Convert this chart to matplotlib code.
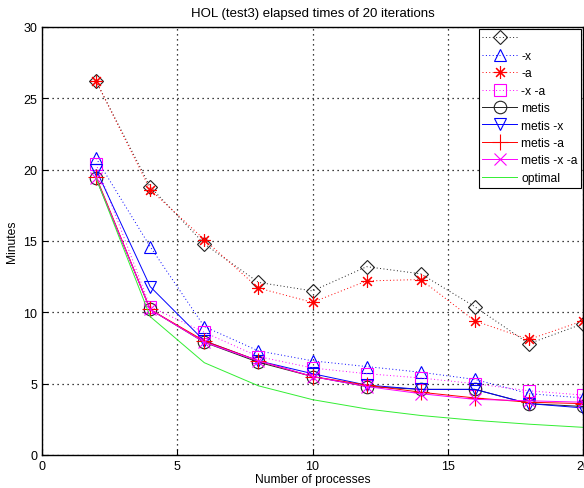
import matplotlib
matplotlib.use("Agg")
import matplotlib.pyplot as plt

plt.rcParams['font.family'] = ['Liberation Sans', 'DejaVu Sans']

procs = [2, 4, 6, 8, 10, 12, 14, 16, 18, 20]

plain = [26.2, 18.8, 14.8, 12.1, 11.5, 13.2, 12.7, 10.4, 7.8, 9.2]
opt_x = [20.8, 14.6, 9.0, 7.3, 6.6, 6.2, 5.8, 5.3, 4.3, 4.0]
opt_a = [26.2, 18.6, 15.1, 11.7, 10.7, 12.2, 12.3, 9.4, 8.1, 9.4]
opt_xa = [20.4, 10.4, 8.6, 6.9, 6.1, 5.7, 5.4, 5.0, 4.5, 4.2]
metis = [19.4, 10.2, 7.9, 6.5, 5.5, 4.8, 4.6, 4.6, 3.6, 3.4]
metis_x = [20.0, 11.8, 8.0, 6.6, 5.7, 4.9, 4.6, 4.6, 3.6, 3.3]
metis_a = [19.5, 10.2, 8.0, 6.6, 5.5, 4.9, 4.4, 4.0, 3.7, 3.6]
metis_xa = [19.4, 10.2, 7.9, 6.6, 5.5, 4.8, 4.3, 3.9, 3.8, 3.7]
optimal = [19.4, 9.7, 6.47, 4.85, 3.88, 3.23, 2.77, 2.43, 2.16, 1.94]

fig = plt.figure(figsize=(5.84, 4.89), dpi=100)
ax = fig.add_axes([42 / 584, 1 - 456 / 489, 541 / 584, 428 / 489])

ms = 9
lw = 0.7
dot = (1, 2.5)
ax.plot(procs, plain, color='#222222', ls=dot and (0, dot), marker='D', mfc='none', ms=7.5, mew=0.8, lw=lw, label=' ')
ax.plot(procs, opt_x, color='blue', ls=(0, dot), marker='^', mfc='none', ms=ms, mew=0.8, lw=lw, label='-x')
ax.plot(procs, opt_a, color='red', ls=(0, dot), marker=(8, 2, 0), ms=ms, mew=0.8, lw=lw, label='-a')
ax.plot(procs, opt_xa, color='magenta', ls=(0, dot), marker='s', mfc='none', ms=ms, mew=0.8, lw=lw, label='-x -a')
ax.plot(procs, metis, '-', color='#222222', marker='o', mfc='none', ms=ms, mew=0.8, lw=lw, label='metis')
ax.plot(procs, metis_x, '-', color='blue', marker='v', mfc='none', ms=ms, mew=0.8, lw=lw, label='metis -x')
ax.plot(procs, metis_a, '-', color='red', marker='+', ms=ms + 3, mew=0.8, lw=lw, label='metis -a')
ax.plot(procs, metis_xa, '-', color='magenta', marker='x', ms=ms, mew=0.8, lw=lw, label='metis -x -a')
ax.plot(procs, optimal, '-', color='#33ee33', lw=lw, label='optimal')

ax.set_xlim(0, 20)
ax.set_ylim(0, 30)
ax.set_xticks([0, 5, 10, 15, 20])
ax.set_yticks([0, 5, 10, 15, 20, 25, 30])
ax.grid(True, linestyle=(0, (1, 3)), color='black', linewidth=0.9)
ax.tick_params(direction='in', labelsize=9, length=4)
for s in ax.spines.values():
    s.set_linewidth(1.0)

ax.set_title('HOL (test3) elapsed times of 20 iterations', fontsize=9.5, pad=8)
ax.set_xlabel('Number of processes', fontsize=8.7, labelpad=1)
ax.set_ylabel('Minutes', fontsize=8.7)

leg = ax.legend(loc='upper right', fontsize=8.7, fancybox=False, framealpha=1,
                edgecolor='black', handlelength=2.9, borderpad=0.3,
                labelspacing=0.45, handletextpad=0.3, borderaxespad=0.15)
leg.get_frame().set_linewidth(0.8)

fig.savefig('out.png', dpi=100)
